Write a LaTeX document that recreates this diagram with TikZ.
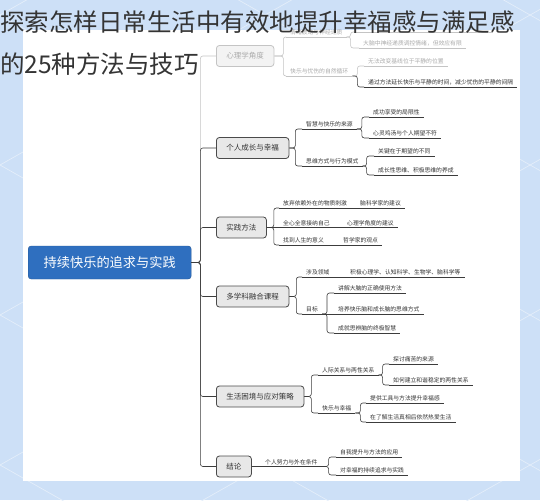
\documentclass[tikz,border=0pt]{standalone}
\usepackage{fontspec}
\newfontfamily\cjk{Noto Sans CJK SC}
\definecolor{bgblue}{HTML}{CDE0F7}
\definecolor{patline}{HTML}{E4EEFA}
\definecolor{rootblue}{HTML}{2F6FBF}
\definecolor{boxfill}{HTML}{E8E8E8}
\definecolor{boxline}{HTML}{4A4A4A}
\definecolor{lncol}{HTML}{3C3C3C}
\definecolor{txtcol}{HTML}{333333}
\definecolor{fadecol}{HTML}{C4C4C4}
\definecolor{fadetxt}{HTML}{ABABAB}
\definecolor{titlecol}{HTML}{343434}
\tikzset{
  pat/.style={draw=patline,line width=0.7pt},
  lnk/.style={draw=lncol,line width=0.6pt,rounded corners=2.5pt},
  ulin/.style={draw=lncol,line width=0.6pt},
  root/.style={fill=rootblue,draw=rootblue!80!black,rounded corners=3pt,anchor=west,
    minimum width=163pt,minimum height=33pt,text=white,font=\cjk\fontsize{13.2}{15}\selectfont},
  topic/.style={fill=boxfill,draw=boxline,line width=0.8pt,rounded corners=3pt,anchor=west,
    minimum height=21pt,inner xsep=10pt,text=txtcol,font=\cjk\fontsize{7.5}{9}\selectfont},
  leaf/.style={anchor=south west,inner xsep=4pt,inner ysep=1.6pt,text=txtcol,
    font=\cjk\fontsize{5.8}{7}\selectfont,
    append after command={(\tikzlastnode.south west) edge[ulin] (\tikzlastnode.south east)}},
  title/.style={anchor=west,inner sep=0pt,text=titlecol,font=\cjk\fontsize{24.5}{28}\selectfont}
}
\begin{document}
\begin{tikzpicture}[x=1pt,y=-1pt]
  \useasboundingbox (0,0) rectangle (540,500);
  \fill[bgblue] (0,0) rectangle (540,500);
  \foreach \c in {-435,-285,...,765} {
    \draw[pat] (0,\c) -- (540,{\c+305.6});
    \draw[pat] (0,\c) -- (540,{\c-305.6});
  }
  \fill[white] (23,30) rectangle (520,481);

  % root
  \node[root] (root) at (28,262.5) {持续快乐的追求与实践};

  % psychology (faded under the title)
  \begin{scope}[lnk/.append style={draw=fadecol},ulin/.append style={draw=fadecol},
      leaf/.append style={text=fadetxt},topic/.append style={text=fadetxt,draw=fadecol,fill=boxfill!50}]
    \node[topic] (b1) at (216,56) {心理学角度};
    \node[leaf] (s11) at (286,37) {情绪波动与神经递质};
    \node[leaf,minimum width=139pt] (l110) at (354,32) {};
    \node[leaf] (l111) at (359,48) {大脑中神经递质调控情绪，但效应有限};
    \node[leaf] (s12) at (286,76) {快乐与忧伤的自然循环};
    \node[leaf] (l121) at (364,66) {无法改变基线位于平静的位置};
    \draw[lnk] (root.east) -- ++(9,0) |- (b1.west);
    \draw[lnk] (b1.east) -- ++(9,0) |- (s11.south west);
    \draw[lnk] (b1.east) -- ++(9,0) |- (s12.south west);
    \draw[lnk] (s11.south east) -- ++(4,0) |- (l110.south west);
    \draw[lnk] (s11.south east) -- ++(4,0) |- (l111.south west);
    \draw[lnk] (s12.south east) -- ++(5,0) |- (l121.south west);
  \end{scope}
  \node[leaf] (l122) at (364,87) {通过方法延长快乐与平静的时间，减少忧伤的平静的间隔};
  \draw[lnk] (s12.south east) -- ++(5,0) |- (l122.south west);

  % personal growth
  \node[topic] (b2) at (216,148) {个人成长与幸福};
  \node[leaf] (s21) at (302,129) {智慧与快乐的来源};
  \node[leaf] (l211) at (369,117) {成功享受的局限性};
  \node[leaf] (l212) at (369,138) {心灵鸡汤与个人期望不符};
  \node[leaf] (s22) at (302,166) {思维方式与行为模式};
  \node[leaf] (l221) at (374,156) {关键在于期望的不同};
  \node[leaf] (l222) at (374,175) {成长性思维、积极思维的养成};
  \draw[lnk] (root.east) -- ++(9,0) |- (b2.west);
  \draw[lnk] (b2.east) -- ++(6,0) |- (s21.south west);
  \draw[lnk] (b2.east) -- ++(6,0) |- (s22.south west);
  \draw[lnk] (s21.south east) -- ++(5,0) |- (l211.south west);
  \draw[lnk] (s21.south east) -- ++(5,0) |- (l212.south west);
  \draw[lnk] (s22.south east) -- ++(4,0) |- (l221.south west);
  \draw[lnk] (s22.south east) -- ++(4,0) |- (l222.south west);

  % methods
  \node[topic] (b3) at (216,227.5) {实践方法};
  \node[leaf] (s31) at (279,208) {放弃依赖外在的物质刺激};
  \node[leaf] (l31) at (356,208) {脑科学家的建议};
  \node[leaf] (s32) at (279,227.5) {全心全意接纳自己};
  \node[leaf] (l32) at (343,227.5) {心理学角度的建议};
  \node[leaf] (s33) at (279,245) {找到人生的意义};
  \node[leaf] (l33) at (339,245) {哲学家的观点};
  \draw[lnk] (root.east) -- ++(9,0) |- (b3.west);
  \draw[lnk] (b3.east) -- ++(7,0) |- (s31.south west);
  \draw[lnk] (b3.east) -- (s32.south west);
  \draw[lnk] (b3.east) -- ++(7,0) |- (s33.south west);
  \draw[lnk] (s31.south east) -- (l31.south west);
  \draw[lnk] (s32.south east) -- (l32.south west);
  \draw[lnk] (s33.south east) -- (l33.south west);

  % course
  \node[topic] (b4) at (216,296.5) {多学科融合课程};
  \node[leaf] (s41) at (302,277) {涉及领域};
  \node[leaf] (l41) at (346,277) {积极心理学、认知科学、生物学、脑科学等};
  \node[leaf] (s42) at (302,314) {目标};
  \node[leaf] (l421) at (334,293) {讲解大脑的正确使用方法};
  \node[leaf] (l422) at (334,314) {培养快乐脑和成长脑的思维方式};
  \node[leaf] (l423) at (334,333) {成就思辨脑的终极智慧};
  \draw[lnk] (root.east) -- ++(9,0) |- (b4.west);
  \draw[lnk] (b4.east) -- ++(7,0) |- (s41.south west);
  \draw[lnk] (b4.east) -- ++(7,0) |- (s42.south west);
  \draw[lnk] (s41.south east) -- (l41.south west);
  \draw[lnk] (s42.south east) -- ++(5,0) |- (l421.south west);
  \draw[lnk] (s42.south east) -- (l422.south west);
  \draw[lnk] (s42.south east) -- ++(5,0) |- (l423.south west);

  % life problems
  \node[topic] (b5) at (216,396.5) {生活困境与应对策略};
  \node[leaf] (s51) at (318,375) {人际关系与两性关系};
  \node[leaf] (l511) at (389,364) {探讨痛苦的来源};
  \node[leaf] (l512) at (389,385) {如何建立和谐稳定的两性关系};
  \node[leaf] (s52) at (318,413) {快乐与幸福};
  \node[leaf] (l521) at (366,403) {提供工具与方法提升幸福感};
  \node[leaf] (l522) at (366,422) {在了解生活真相后依然热爱生活};
  \draw[lnk] (root.east) -- ++(9,0) |- (b5.west);
  \draw[lnk] (b5.east) -- ++(7,0) |- (s51.south west);
  \draw[lnk] (b5.east) -- ++(7,0) |- (s52.south west);
  \draw[lnk] (s51.south east) -- ++(4,0) |- (l511.south west);
  \draw[lnk] (s51.south east) -- ++(4,0) |- (l512.south west);
  \draw[lnk] (s52.south east) -- ++(5,0) |- (l521.south west);
  \draw[lnk] (s52.south east) -- ++(5,0) |- (l522.south west);

  % conclusion
  \node[topic] (b6) at (216,466.5) {结论};
  \node[leaf] (s61) at (261,466.5) {个人努力与外在条件};
  \node[leaf] (l611) at (336,457) {自我提升与方法的应用};
  \node[leaf] (l612) at (336,475) {对幸福的持续追求与实践};
  \draw[lnk] (root.east) -- ++(9,0) |- (b6.west);
  \draw[lnk] (b6.east) -- (s61.south west);
  \draw[lnk] (s61.south east) -- ++(7,0) |- (l611.south west);
  \draw[lnk] (s61.south east) -- ++(7,0) |- (l612.south west);

  % title over the card
  \node[title] (t1) at (0,22) {探索怎样日常生活中有效地提升幸福感与满足感};
  \node[title] (t2) at (0,64) {的25种方法与技巧};
\end{tikzpicture}
\end{document}
